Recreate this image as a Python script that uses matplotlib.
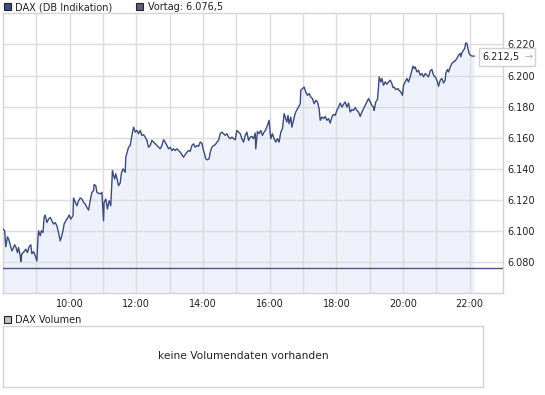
import matplotlib
matplotlib.use("Agg")
import matplotlib.pyplot as plt
from matplotlib.patches import Rectangle
from matplotlib.transforms import blended_transform_factory
import numpy as np

# DAX intraday (DB Indikation), minutes after 08:00 and index level
minuten = [0, 3, 5, 8, 10, 16, 18, 21, 23, 26, 28, 31, 32, 34, 38, 41, 44, 47, 50, 52, 55, 58,
           61, 63, 64, 67, 69, 72, 74, 76, 79, 82, 85, 88, 91, 94, 97, 100, 103, 105, 108, 110, 113, 117, 119,
           122, 126, 127, 130, 133, 136, 139, 142, 145, 148, 151, 154, 157, 160, 163, 164, 167, 169, 172, 175, 178,
           181, 182, 185, 188, 191, 194, 197, 199, 201, 203, 206, 208, 211, 213, 216, 218, 220, 221, 224, 226, 229, 232, 235, 238,
           241, 244, 247, 250, 253, 256, 259, 262, 265, 268, 271, 274, 277, 280, 283, 286, 289, 292, 295, 298,
           301, 304, 307, 310, 313, 316, 319, 322, 325, 328, 331, 334, 337, 340, 343, 346, 349, 352, 355, 358,
           361, 362, 365, 368, 371, 373, 376, 379, 382, 385, 388, 391, 394, 397, 400, 403, 406, 409, 412, 415, 418,
           421, 424, 427, 430, 433, 436, 439, 442, 445, 448, 451, 454, 455, 458, 461, 464, 467, 470, 473, 476, 479,
           481, 482, 485, 488, 491, 494, 497, 500, 503, 506, 508, 511, 513, 515, 518, 520, 523, 525, 527, 530, 532, 535, 536, 539,
           542, 545, 548, 551, 554, 557, 560, 563, 566, 569, 571, 574, 577, 580, 583, 586, 589, 592, 595, 598,
           601, 604, 607, 610, 613, 616, 619, 622, 625, 628, 631, 634, 637, 640, 643, 646, 649, 652, 655, 658,
           661, 664, 667, 668, 671, 674, 676, 677, 680, 682, 685, 688, 691, 694, 697, 700, 702, 704, 707, 711, 713, 716, 719,
           721, 724, 727, 730, 733, 736, 738, 740, 742, 745, 748, 751, 754, 757, 760, 763, 766, 769, 772, 775, 778,
           781, 784, 787, 790, 793, 796, 797, 800, 802, 805, 808, 811, 814, 817, 820, 823, 824, 826, 829, 831, 833, 835, 837, 839,
           841, 844, 848]

kurs = [6101.3, 6100.2, 6089.9, 6096.3, 6095.0, 6087.3, 6088.6, 6091.2, 6089.9, 6086.2, 6089.4, 6084.1, 6080.4, 6085.4, 6086.8, 6088.4, 6086.2, 6089.9, 6091.2, 6085.5, 6086.8, 6084.1,
        6080.8, 6095.9, 6100.2, 6097.0, 6100.2, 6099.1, 6108.8, 6110.3, 6105.5, 6107.7, 6108.8, 6106.6, 6104.5, 6105.5, 6103.4, 6099.1, 6093.7, 6095.9, 6100.2, 6104.5, 6106.6, 6108.8, 6110.3,
        6107.7, 6109.9, 6121.3, 6118.5, 6116.3, 6119.5, 6121.3, 6120.6, 6118.5, 6117.4, 6115.2, 6113.5, 6119.5, 6124.9, 6126.0, 6129.9, 6129.2, 6124.9, 6124.3, 6123.9, 6124.9,
        6106.6, 6118.5, 6120.6, 6114.2, 6119.5, 6116.3, 6138.9, 6135.7, 6133.5, 6136.8, 6132.5, 6129.2, 6131.0, 6137.0, 6140.0, 6138.9, 6137.8, 6147.5, 6151.3, 6153.9, 6155.0, 6161.5, 6166.8, 6163.6,
        6164.7, 6162.6, 6164.7, 6161.5, 6162.0, 6160.4, 6158.3, 6153.9, 6155.0, 6158.3, 6157.2, 6156.1, 6155.0, 6153.9, 6152.9, 6155.0, 6158.7, 6157.2, 6155.0, 6152.9,
        6153.9, 6151.8, 6152.9, 6151.8, 6152.9, 6151.8, 6150.7, 6149.2, 6147.5, 6149.2, 6150.7, 6151.8, 6151.3, 6155.0, 6156.1, 6153.9, 6155.0, 6154.5, 6157.2, 6156.5,
        6151.8, 6150.7, 6146.5, 6145.8, 6146.5, 6150.7, 6153.9, 6155.0, 6155.5, 6157.2, 6158.3, 6162.6, 6163.6, 6162.6, 6161.5, 6162.6, 6160.4, 6159.4, 6160.4, 6159.4, 6158.7,
        6164.7, 6163.6, 6162.6, 6159.4, 6157.2, 6161.5, 6163.6, 6158.3, 6160.4, 6160.8, 6159.4, 6163.0, 6152.9, 6164.0, 6162.6, 6164.7, 6161.5, 6163.6, 6165.2, 6167.9, 6171.2,
        6163.6, 6159.4, 6162.6, 6159.4, 6157.2, 6159.4, 6157.2, 6163.6, 6165.8, 6175.5, 6173.3, 6170.1, 6174.4, 6169.0, 6173.3, 6166.8, 6171.2, 6174.4, 6176.5, 6178.7, 6179.7, 6181.9, 6190.5, 6191.6,
        6192.6, 6189.4, 6187.3, 6188.4, 6186.2, 6185.2, 6181.9, 6184.1, 6183.0, 6178.7, 6171.2, 6173.3, 6172.3, 6173.7, 6171.2, 6172.3, 6169.4, 6173.3, 6175.0, 6174.4,
        6177.6, 6179.7, 6182.3, 6179.7, 6181.5, 6183.0, 6179.7, 6182.3, 6176.5, 6178.1, 6177.6, 6179.4, 6177.6, 6176.5, 6173.7, 6176.5, 6178.7, 6180.8, 6183.0, 6185.2,
        6183.0, 6180.8, 6179.7, 6177.6, 6183.0, 6184.5, 6192.6, 6199.1, 6195.9, 6198.1, 6193.7, 6195.9, 6194.4, 6195.9, 6197.0, 6194.8, 6192.3, 6192.6, 6191.0, 6191.6, 6190.5, 6189.4, 6187.3,
        6193.7, 6195.9, 6198.1, 6195.9, 6199.1, 6203.4, 6206.0, 6204.5, 6205.5, 6202.3, 6203.4, 6200.2, 6201.3, 6199.1, 6201.3, 6200.2, 6199.1, 6203.0, 6203.9, 6200.2, 6199.1,
        6197.0, 6193.1, 6197.0, 6198.1, 6195.2, 6197.0, 6201.3, 6203.9, 6202.3, 6205.5, 6207.7, 6208.8, 6209.4, 6211.0, 6213.1, 6214.2, 6212.0, 6214.6, 6216.3, 6217.4, 6221.0, 6220.6, 6217.4, 6214.2,
        6213.1, 6212.5, 6212.5]

vortag = 6076.5
letzter = 6212.5
y_ticks = [6080, 6100, 6120, 6140, 6160, 6180, 6200, 6220]
x_ticks = [10, 12, 14, 16, 18, 20, 22]

#simple check so the two lists stay aligned
assert len(minuten) == len(kurs)

def de_num(v, dec=0):
    # german number format: 6.212,5
    s = f"{v:,.{dec}f}"
    return s.replace(",", "X").replace(".", ",").replace("X", ".")

W, H = 545.0, 395.0
fig = plt.figure(figsize=(W / 100, H / 100), dpi=100)

frame_col = '#d4d4d4'
grid_col = '#dcdcdc'
line_col = '#3b4b7c'

# main price panel
ax = fig.add_axes([3 / W, 1 - 293.3 / H, 500 / W, 280 / H])
x = 8 + np.array(minuten) / 60.0
ax.fill_between(x, kurs, 6060, color='#eef1fa', lw=0, zorder=1)
ax.plot(x, kurs, color=line_col, lw=1.0, zorder=4)
ax.axhline(vortag, color='#4a5382', lw=1.0, zorder=4)

ax.set_xlim(8, 23)
ax.set_ylim(6060, 6240)
ax.set_xticks(range(9, 23))
ax.set_xticklabels([f"{h}:00" if h in x_ticks else "" for h in range(9, 23)])
ax.set_yticks(y_ticks)
ax.set_yticklabels([de_num(v) for v in y_ticks])
ax.yaxis.tick_right()
ax.tick_params(length=0, labelsize=7, colors='#222222')
ax.tick_params(axis='x', pad=4)
ax.tick_params(axis='y', pad=3)
ax.set_axisbelow(False)
ax.grid(True, color=grid_col, lw=1.0)
for s in ax.spines.values():
    s.set_color(frame_col)
    s.set_linewidth(1.0)

# box with last price at the right edge
tr = blended_transform_factory(ax.transAxes, ax.transData)
box = Rectangle((0.951, letzter - 6.2), 0.113, 11.4, transform=tr, facecolor='white',
                edgecolor='#d0d0d0', lw=1.0, clip_on=False, zorder=6)
ax.add_patch(box)
ax.text(0.959, letzter - 0.5, de_num(letzter, 1), transform=tr, fontsize=7, color='#222222',
        va='center', ha='left', zorder=7, clip_on=False)
ax.text(1.043, letzter - 0.5, "→", transform=tr, fontsize=7, color='#b0b0b0',
        va='center', ha='left', zorder=7, clip_on=False)

# legend on top
def legend_square(px, py, col):
    fig.patches.append(Rectangle((px / W, 1 - (py + 7) / H), 7 / W, 7 / H, transform=fig.transFigure,
                                 facecolor=col, edgecolor='#222222', lw=0.8))

legend_square(3.5, 3, '#3d4f80')
fig.text(15 / W, 1 - 7 / H, "DAX (DB Indikation)", fontsize=7, va='center', ha='left', color='#222222')
legend_square(136, 3, '#5c6078')
fig.text(147.5 / W, 1 - 7 / H, "Vortag: " + de_num(vortag, 1), fontsize=7, va='center', ha='left', color='#222222')

# volume panel (no data)
legend_square(3.5, 316, '#c0c0c0')
fig.text(15 / W, 1 - 320 / H, "DAX Volumen", fontsize=7, va='center', ha='left', color='#222222')
vax = fig.add_axes([3 / W, 1 - 386.7 / H, 480 / W, 60.7 / H])
vax.set_xticks([])
vax.set_yticks([])
for s in vax.spines.values():
    s.set_color(frame_col)
    s.set_linewidth(1.0)
vax.text(0.5, 0.5, "keine Volumendaten vorhanden", transform=vax.transAxes, fontsize=7.7,
         ha='center', va='center', color='#222222')

fig.savefig('out.png', dpi=100)
